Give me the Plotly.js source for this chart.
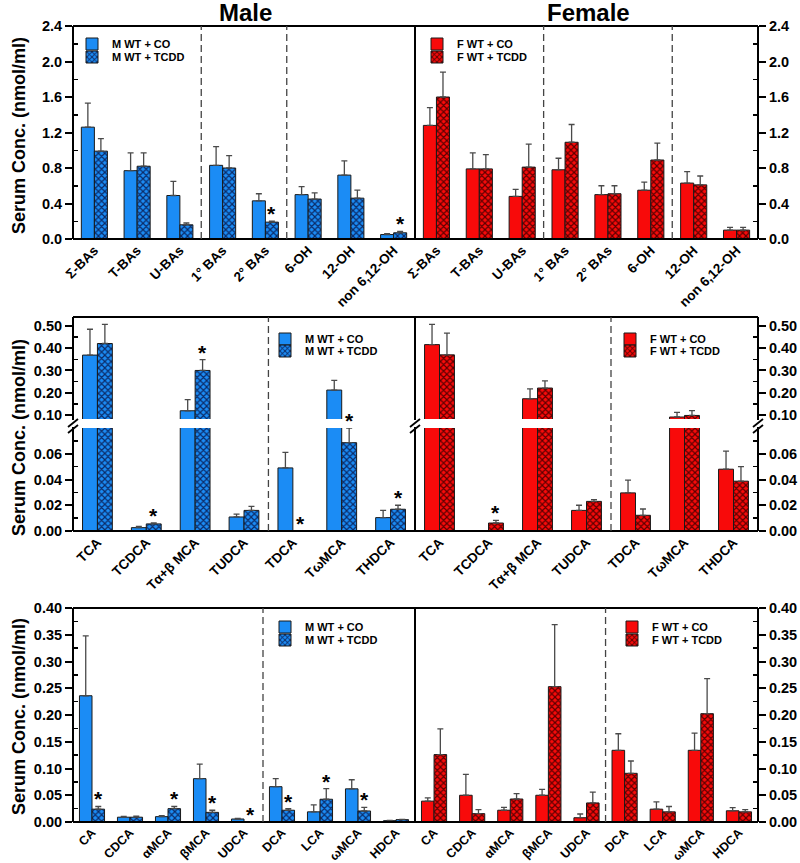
<!DOCTYPE html>
<html><head><meta charset="utf-8">
<script src="https://cdn.plot.ly/plotly-3.0.1.min.js"></script>
<style>body{margin:0;background:#fff;} #chart{width:800px;height:863px;}</style>
</head><body><div id="chart"></div>
<script>
// ---------------- DATA ----------------
// Row 1: bile-acid groups (nmol/ml)
const cats1 = ['Σ-BAs','T-BAs','U-BAs','1° BAs','2° BAs','6-OH','12-OH','non 6,12-OH'];
const m1_co     = [1.26, 0.77, 0.49, 0.83, 0.43, 0.50, 0.72, 0.05];
const m1_co_err = [0.27, 0.20, 0.16, 0.21, 0.08, 0.09, 0.16, 0.01];
const m1_tc     = [0.99, 0.82, 0.16, 0.80, 0.19, 0.45, 0.46, 0.07];
const m1_tc_err = [0.14, 0.15, 0.02, 0.14, 0.01, 0.07, 0.09, 0.015];
const m1_sig    = [0, 0, 0, 0, 1, 0, 0, 1];
const f1_co     = [1.28, 0.79, 0.48, 0.78, 0.50, 0.55, 0.63, 0.10];
const f1_co_err = [0.20, 0.18, 0.08, 0.13, 0.10, 0.09, 0.13, 0.03];
const f1_tc     = [1.60, 0.79, 0.81, 1.09, 0.51, 0.89, 0.61, 0.10];
const f1_tc_err = [0.28, 0.16, 0.26, 0.20, 0.09, 0.19, 0.10, 0.03];
const f1_sig    = [0, 0, 0, 0, 0, 0, 0, 0];

// Row 2: taurine conjugates
const cats2 = ['TCA','TCDCA','Tα+β MCA','TUDCA','TDCA','TωMCA','THDCA'];
const m2_co     = [0.369, 0.0026, 0.119, 0.0109, 0.049, 0.212, 0.0104];
const m2_co_err = [0.116, 0.0010, 0.050, 0.0022, 0.012, 0.043, 0.0056];
const m2_tc     = [0.421, 0.0055, 0.300, 0.0160, 0.0003, 0.0686, 0.0169];
const m2_tc_err = [0.086, 0.0008, 0.049, 0.0032, 0.0, 0.0114, 0.0031];
const m2_sig    = [0, 1, 1, 0, 1, 1, 1];
const f2_co     = [0.416, 0.0003, 0.173, 0.016, 0.0296, 0.091, 0.048];
const f2_co_err = [0.091, 0.0, 0.044, 0.004, 0.0099, 0.021, 0.014];
const f2_tc     = [0.370, 0.0062, 0.221, 0.023, 0.0122, 0.098, 0.0387];
const f2_tc_err = [0.098, 0.0021, 0.032, 0.0014, 0.0049, 0.022, 0.0113];
const f2_sig    = [0, 1, 0, 0, 0, 0, 0];

// Row 3: unconjugated bile acids
const cats3 = ['CA','CDCA','αMCA','βMCA','UDCA','DCA','LCA','ωMCA','HDCA'];
const m3_co     = [0.236, 0.009, 0.010, 0.081, 0.0056, 0.066, 0.019, 0.062, 0.0025];
const m3_co_err = [0.112, 0.0016, 0.002, 0.027, 0.0013, 0.015, 0.013, 0.017, 0.0006];
const m3_tc     = [0.024, 0.009, 0.025, 0.018, 0.0003, 0.022, 0.0425, 0.0206, 0.0044];
const m3_tc_err = [0.005, 0.002, 0.004, 0.004, 0.0, 0.003, 0.020, 0.0069, 0.0006];
const m3_sig    = [1, 0, 1, 1, 1, 1, 1, 1, 0];
const f3_co     = [0.039, 0.050, 0.022, 0.050, 0.008, 0.134, 0.024, 0.134, 0.021];
const f3_co_err = [0.006, 0.039, 0.0055, 0.011, 0.007, 0.031, 0.0135, 0.032, 0.006];
const f3_tc     = [0.126, 0.0156, 0.043, 0.253, 0.0356, 0.091, 0.019, 0.2025, 0.019];
const f3_tc_err = [0.048, 0.0074, 0.010, 0.116, 0.0204, 0.023, 0.010, 0.0655, 0.004];
const f3_sig    = [0, 0, 0, 0, 0, 0, 0, 0, 0];

// Tick values
const r1_ticks = [0, 0.4, 0.8, 1.2, 1.6, 2.0, 2.4];
const r1_minor = [0.2, 0.6, 1.0, 1.4, 1.8, 2.2];
const r2u_ticks = [0.10, 0.20, 0.30, 0.40, 0.50];
const r2u_minor = [0.15, 0.25, 0.35, 0.45];
const r2l_ticks = [0, 0.02, 0.04, 0.06];
const r2l_minor = [0.01, 0.03, 0.05, 0.07];
const r3_ticks = [0, 0.05, 0.10, 0.15, 0.20, 0.25, 0.30, 0.35, 0.40];
const r3_minor = [0.025, 0.075, 0.125, 0.175, 0.225, 0.275, 0.325, 0.375];

const names = {m_co:'M WT + CO', m_tc:'M WT + TCDD', f_co:'F WT + CO', f_tc:'F WT + TCDD'};

// ---------------- STYLE / LAYOUT ----------------
const W = 800, H = 863;
const px = v => v / W, py = v => 1 - v / H;
const FONT = 'Liberation Sans, Arial, Helvetica, sans-serif';
const BLUE = '#1b8cf5', BLUE_DK = '#0b2a66';
const RED = '#f80a0a', RED_DK = '#5a0000';
const XL = 73, XM = 415, XR = 758;
const R1 = [26, 239], R2U = [317, 419], R2L = [428, 531], R3 = [608, 822];
const dom = r => [py(r[1]), py(r[0])];

const traces = [];
const annotations = [];

function addPair(cats, co, coErr, tc, tcErr, xa, ya, male, legA, legB, showleg, w) {
  const zeros = co.map(() => 0);
  const col = male ? BLUE : RED, dk = male ? BLUE_DK : RED_DK;
  const eb = arr => ({type:'data', array:arr, arrayminus:zeros, symmetric:false, color:'#4a4a4a', thickness:1.3, width:3, visible:true});
  traces.push({type:'bar', x:cats, y:co, xaxis:xa, yaxis:ya, width:w, offset:-w,
    name: male ? names.m_co : names.f_co, legend:legA, showlegend:showleg,
    marker:{color:col, line:{color:'#1a1a1a', width:1}}, error_y:eb(coErr), hoverinfo:'skip'});
  traces.push({type:'bar', x:cats, y:tc, xaxis:xa, yaxis:ya, width:w, offset:0,
    name: male ? names.m_tc : names.f_tc, legend:legB, showlegend:showleg,
    marker:{color:col, line:{color:'#1a1a1a', width:1},
      pattern:{shape:'x', size:4.5, solidity:0.45, fgcolor:dk, bgcolor:col, fillmode:'replace'}},
    error_y:eb(tcErr), hoverinfo:'skip'});
}

function addStars(sig, tc, tcErr, xa, yaFn, w) {
  sig.forEach((s, i) => {
    if (!s) return;
    const top = tc[i] + tcErr[i];
    annotations.push({xref:xa, yref:yaFn(top), x:i + w/2, y:top, text:'*', showarrow:false,
      yanchor:'bottom', xanchor:'center', yshift:-6,
      font:{family:FONT, size:21, color:'#000', weight:'bold'}});
  });
}

const W1 = 0.305, W2 = 0.305, W3 = 0.33;
// Row 1
addPair(cats1, m1_co, m1_co_err, m1_tc, m1_tc_err, 'x', 'y', true, 'legend', 'legend2', true, W1);
addPair(cats1, f1_co, f1_co_err, f1_tc, f1_tc_err, 'x2', 'y2', false, 'legend3', 'legend4', true, W1);
addStars(m1_sig, m1_tc, m1_tc_err, 'x', () => 'y', W1);
addStars(f1_sig, f1_tc, f1_tc_err, 'x2', () => 'y2', W1);
// Row 2 (broken axis: lower + upper)
addPair(cats2, m2_co, m2_co_err, m2_tc, m2_tc_err, 'x3', 'y3', true, 'legend5', 'legend6', true, W2);
addPair(cats2, m2_co, m2_co_err, m2_tc, m2_tc_err, 'x3', 'y4', true, 'legend5', 'legend6', false, W2);
addPair(cats2, f2_co, f2_co_err, f2_tc, f2_tc_err, 'x4', 'y5', false, 'legend7', 'legend8', true, W2);
addPair(cats2, f2_co, f2_co_err, f2_tc, f2_tc_err, 'x4', 'y6', false, 'legend7', 'legend8', false, W2);
addStars(m2_sig, m2_tc, m2_tc_err, 'x3', v => v > 0.081 ? 'y4' : 'y3', W2);
addStars(f2_sig, f2_tc, f2_tc_err, 'x4', v => v > 0.081 ? 'y6' : 'y5', W2);
// Row 3
addPair(cats3, m3_co, m3_co_err, m3_tc, m3_tc_err, 'x5', 'y7', true, 'legend9', 'legend10', true, W3);
addPair(cats3, f3_co, f3_co_err, f3_tc, f3_tc_err, 'x6', 'y8', false, 'legend11', 'legend12', true, W3);
addStars(m3_sig, m3_tc, m3_tc_err, 'x5', () => 'y7', W3);
addStars(f3_sig, f3_tc, f3_tc_err, 'x6', () => 'y8', W3);

function xax(domain, anchor, n, fs) {
  return {domain, anchor, type:'category', range:[-0.5, n - 0.5], tickangle:-45, ticks:'',
    showline:false, showgrid:false, zeroline:false, fixedrange:true,
    tickfont:{family:FONT, size:fs, color:'#000', weight:'bold'}};
}
function yax(domain, range, side, anchor, tv, dec, mv) {
  return {domain, range, side, anchor, tickmode:'array', tickvals:tv,
    ticktext: tv.map(v => v.toFixed(dec)), ticks:'outside', ticklen:7, tickwidth:2, tickcolor:'#000',
    showline:false, showgrid:false, zeroline:false, fixedrange:true,
    tickfont:{family:FONT, size:14.5, color:'#000', weight:'bold'},
    minor:{tickmode:'array', tickvals:mv, ticks:'inside', ticklen:5, tickwidth:1.5, tickcolor:'#000', showgrid:false}};
}
const XDM = [px(XL), px(XM)], XDF = [px(XM), px(XR)];

const shapes = [];
const blk = {color:'#000', width:2};
function pline(x0, y0, x1, y1, line) {
  shapes.push({type:'line', xref:'paper', yref:'paper', x0:px(x0), y0:py(y0), x1:px(x1), y1:py(y1), line:line || blk, layer:'above'});
}
function frame(r) {
  pline(XL, r[0], XR, r[0]); pline(XL, r[1], XR, r[1]);
  [XL, XM, XR].forEach(x => pline(x, r[0], x, r[1]));
}
frame(R1); frame(R3);
// Row 2 broken frame
pline(XL, R2U[0], XR, R2U[0]); pline(XL, R2L[1], XR, R2L[1]);
[XL, XM, XR].forEach(x => {
  pline(x, R2U[0], x, R2U[1] + 1); pline(x, R2L[0] - 1, x, R2L[1]);
  pline(x - 5, 427, x + 5, 419, {color:'#000', width:1.8});
  pline(x - 5, 433, x + 5, 425, {color:'#000', width:1.8});
});
// dashed separators (category boundaries)
const dashLn = {color:'#444', width:1.3, dash:'7px,4px'};
function dashAt(xa, xv, r0, r1) {
  shapes.push({type:'line', xref:xa, yref:'paper', x0:xv, x1:xv, y0:py(r1), y1:py(r0), line:dashLn, layer:'above'});
}
dashAt('x', 2.5, R1[0], R1[1]); dashAt('x', 4.5, R1[0], R1[1]);
dashAt('x2', 2.5, R1[0], R1[1]); dashAt('x2', 5.5, R1[0], R1[1]);
dashAt('x3', 3.5, R2U[0], R2L[1]); dashAt('x4', 3.5, R2U[0], R2L[1]);
dashAt('x5', 4.5, R3[0], R3[1]); dashAt('x6', 4.5, R3[0], R3[1]);

// titles
const tfont = s => ({family:FONT, size:s, color:'#000', weight:'bold'});
annotations.push({xref:'paper', yref:'paper', x:px(245), y:py(13), text:'Male', showarrow:false, font:tfont(24), xanchor:'center', yanchor:'middle'});
annotations.push({xref:'paper', yref:'paper', x:px(588), y:py(13), text:'Female', showarrow:false, font:tfont(24), xanchor:'center', yanchor:'middle'});
[[136], [438], [717]].forEach(([yc]) => {
  annotations.push({xref:'paper', yref:'paper', x:px(19), y:py(yc), text:'Serum Conc. (nmol/ml)', textangle:-90,
    showarrow:false, font:tfont(18), xanchor:'center', yanchor:'middle'});
});

// legends
const legendPos = [[112,44],[112,57],[457,44],[457,57],[305,339],[305,351],[650,339],[650,351],[305,627],[305,640],[652,627],[652,640]];
const layout = {
  width:W, height:H, margin:{l:0, r:0, t:0, b:0}, paper_bgcolor:'#fff', plot_bgcolor:'rgba(0,0,0,0)',
  showlegend:true, barmode:'overlay',
  xaxis: xax(XDM, 'y', cats1.length, 13.5),
  xaxis2: xax(XDF, 'y2', cats1.length, 13.5),
  xaxis3: xax(XDM, 'y3', cats2.length, 13.5),
  xaxis4: xax(XDF, 'y5', cats2.length, 13.5),
  xaxis5: xax(XDM, 'y7', cats3.length, 12.5),
  xaxis6: xax(XDF, 'y8', cats3.length, 12.5),
  yaxis:  yax(dom(R1), [0, 2.4], 'left', 'x', r1_ticks, 1, r1_minor),
  yaxis2: yax(dom(R1), [0, 2.4], 'right', 'x2', r1_ticks, 1, r1_minor),
  yaxis3: yax(dom(R2L), [0, 0.08], 'left', 'x3', r2l_ticks, 2, r2l_minor),
  yaxis4: yax(dom(R2U), [0.082, 0.54], 'left', 'x3', r2u_ticks, 2, r2u_minor),
  yaxis5: yax(dom(R2L), [0, 0.08], 'right', 'x4', r2l_ticks, 2, r2l_minor),
  yaxis6: yax(dom(R2U), [0.082, 0.54], 'right', 'x4', r2u_ticks, 2, r2u_minor),
  yaxis7: yax(dom(R3), [0, 0.40], 'left', 'x5', r3_ticks, 2, r3_minor),
  yaxis8: yax(dom(R3), [0, 0.40], 'right', 'x6', r3_ticks, 2, r3_minor),
  shapes, annotations
};
legendPos.forEach((p, i) => {
  const key = i === 0 ? 'legend' : 'legend' + (i + 1);
  layout[key] = {x:px(p[0] - 40), y:py(p[1]), xanchor:'left', yanchor:'middle', bgcolor:'rgba(0,0,0,0)',
    borderwidth:0, font:{family:FONT, size:11, color:'#000', weight:'bold'}, itemclick:false, itemdoubleclick:false};
});

Plotly.newPlot('chart', traces, layout, {displayModeBar:false, staticPlot:true});
</script>
</body></html>
